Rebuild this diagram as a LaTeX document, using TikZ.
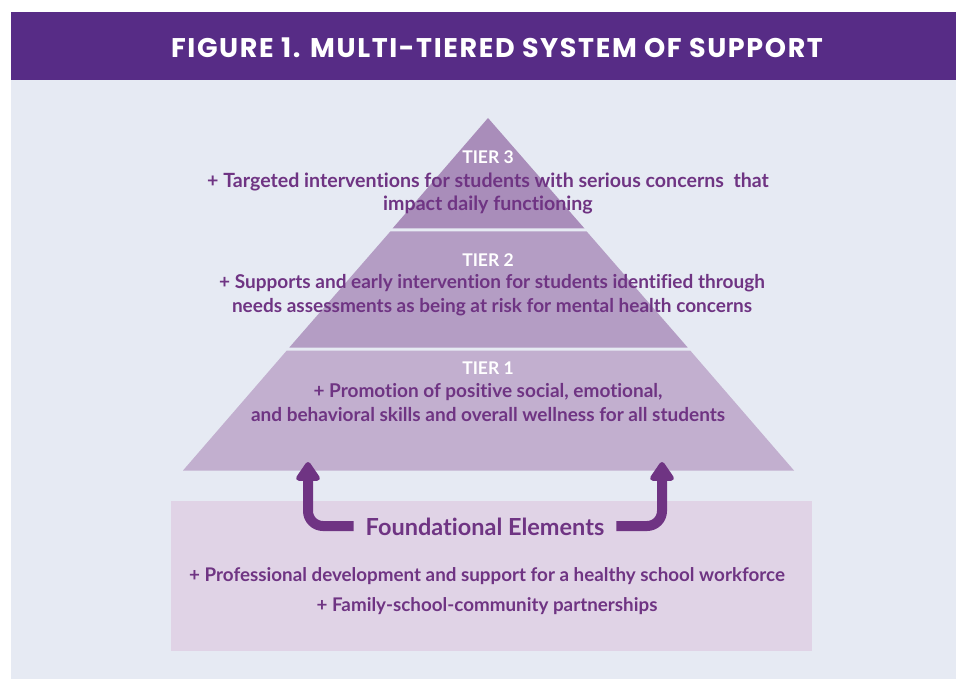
\documentclass[tikz,border=0pt]{standalone}
\usepackage{fontspec}
\setmainfont{Lato}[Ligatures=NoCommon]
\newfontfamily\titlefont{Poppins}[LetterSpace=6]
\usetikzlibrary{arrows.meta}
\definecolor{titlebar}{HTML}{572C86}
\definecolor{panel}{HTML}{E6EAF3}
\definecolor{tierthree}{HTML}{A98DBA}
\definecolor{tiertwo}{HTML}{B49DC4}
\definecolor{tierone}{HTML}{C2AFCF}
\definecolor{found}{HTML}{E0D3E6}
\definecolor{txt}{HTML}{6F3483}
\tikzset{
  tierhead/.style={text=white, font=\fontsize{17.5}{20}\selectfont\bfseries, inner sep=0pt},
  tiertext/.style={text=txt, font=\fontsize{19}{23.5}\selectfont\bfseries, align=center, inner sep=0pt},
  foundtext/.style={text=txt, font=\fontsize{18.8}{30}\selectfont\bfseries, align=center, inner sep=0pt},
  bigarrow/.style={draw=txt, line width=10pt, rounded corners=15pt, -{Triangle[width=27pt,length=21pt,round]}}
}
\begin{document}
\begin{tikzpicture}[x=1pt,y=-1pt]
\useasboundingbox (0,0) rectangle (956,679);
\fill[white] (0,0) rectangle (956,679);
% panel and title bar
\fill[panel] (11,80) rectangle (956,679);
\fill[titlebar] (11,12) rectangle (956,80);
\node[text=white, font=\titlefont\fontsize{27}{30}\selectfont\bfseries, inner sep=0pt] (title) at (497,48) {FIGURE 1. MULTI-TIERED SYSTEM OF SUPPORT};
% pyramid tiers
\fill[tierthree] (488,118) -- (392.5,228.5) -- (584.5,228.5) -- cycle;
\fill[tiertwo] (390.3,231.5) -- (289.3,347.5) -- (687.7,347.5) -- (586.7,231.5) -- cycle;
\fill[tierone] (286.8,350.5) -- (183,470.5) -- (794,470.5) -- (690.2,350.5) -- cycle;
% foundation box
\fill[found] (171,501) rectangle (812,651);
% tier texts
\node[tierhead] (t3) at (488,157) {TIER 3};
\node[tiertext, font=\fontsize{19.6}{23.5}\selectfont\bfseries] (t3txt) at (488,193.5) {+ Targeted interventions for students with serious concerns\ \ that\\impact daily functioning};
\node[tierhead] (t2) at (488,260) {TIER 2};
\node[tiertext] (t2txt) at (492,295) {+ Supports and early intervention for students identified through\\needs assessments as being at risk for mental health concerns};
\node[tierhead] (t1) at (488,368) {TIER 1};
\node[tiertext] (t1txt) at (488,402.5) {+ Promotion of positive social, emotional,\\and behavioral skills and overall wellness for all students};
% foundation texts
\node[text=txt, font=\fontsize{23.5}{26}\selectfont\bfseries, inner sep=0pt] (fe) at (485,527) {Foundational Elements};
\node[foundtext] (ftxt) at (487,591) {+ Professional development and support for a healthy school workforce\\+ Family-school-community partnerships};
% arrows
\coordinate (tipL) at (308,462);
\coordinate (tipR) at (662,462);
\draw[bigarrow] ([xshift=-12pt]fe.west |- 0,526) -| (tipL);
\draw[bigarrow] ([xshift=12pt]fe.east |- 0,526) -| (tipR);
\end{tikzpicture}
\end{document}
